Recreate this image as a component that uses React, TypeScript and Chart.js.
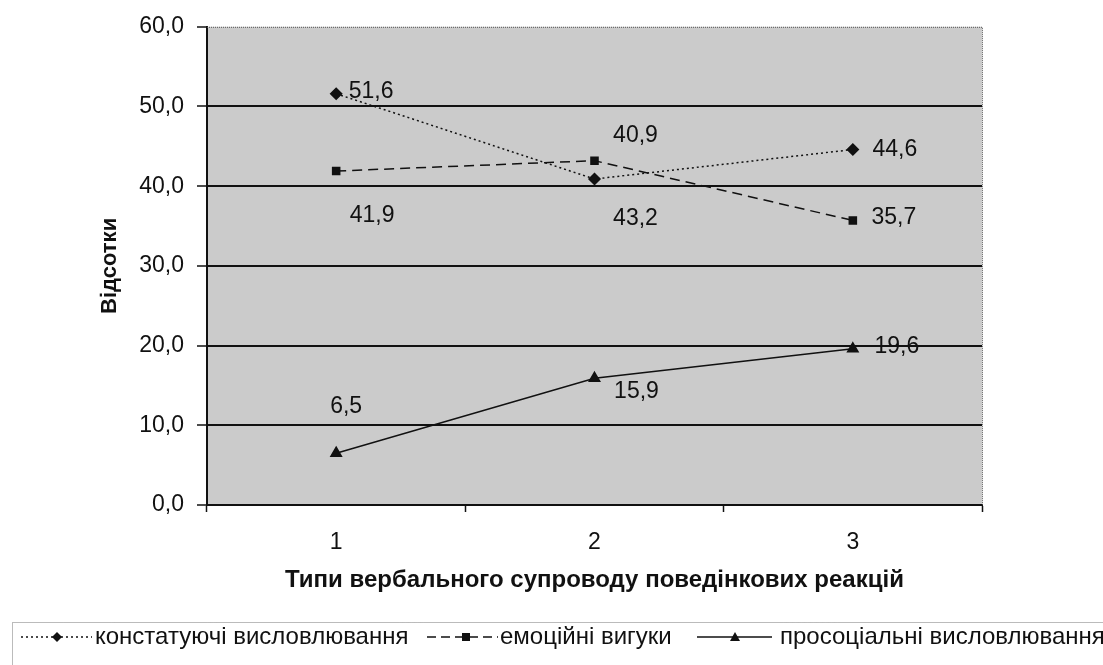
import React, { useEffect, useRef } from "react";
import { Chart, registerables } from "chart.js";

Chart.register(...registerables);

const categories = ["1", "2", "3"];
const seriesNames = [
  "констатуючі висловлювання",
  "емоційні вигуки",
  "просоціальні висловлювання",
];
const constatValues = [51.6, 40.9, 44.6];
const emotionValues = [41.9, 43.2, 35.7];
const prosocialValues = [6.5, 15.9, 19.6];
const xTitle = "Типи вербального супроводу поведінкових реакцій";
const yTitle = "Відсотки";
const yMin = 0;
const yMax = 60;
const yStep = 10;

// label offsets (pixels) relative to each point: [dx, dy]
const labelOffsets = [
  [[35, -2], [41, -43], [42, 0]],
  [[36, 45], [41, 58], [41, -3]],
  [[10, -47], [42, 13], [44, -2]],
];

const FONT = "'Liberation Sans', Arial, sans-serif";
const fmt = (v: number) => v.toFixed(1).replace(".", ",");

const bgPlugin = {
  id: "bgPlugin",
  beforeDraw(chart: any) {
    const { ctx, chartArea: a } = chart;
    ctx.save();
    ctx.fillStyle = "#cbcbcb";
    ctx.fillRect(a.left, a.top, a.right - a.left, a.bottom - a.top);
    ctx.restore();
  },
  beforeDatasetsDraw(chart: any) {
    const { ctx, chartArea: a } = chart;
    ctx.save();
    ctx.strokeStyle = "#555";
    ctx.lineWidth = 1;
    ctx.setLineDash([1, 1]);
    ctx.beginPath();
    ctx.moveTo(a.left, a.top + 0.5);
    ctx.lineTo(a.right + 0.5, a.top + 0.5);
    ctx.lineTo(a.right + 0.5, a.bottom);
    ctx.stroke();
    ctx.restore();
  },
};

const labelPlugin = {
  id: "labelPlugin",
  afterDatasetsDraw(chart: any) {
    const { ctx } = chart;
    ctx.save();
    ctx.font = `23px ${FONT}`;
    ctx.fillStyle = "#111";
    ctx.textAlign = "center";
    ctx.textBaseline = "middle";
    chart.data.datasets.forEach((ds: any, di: number) => {
      const meta = chart.getDatasetMeta(di);
      meta.data.forEach((pt: any, i: number) => {
        const [dx, dy] = labelOffsets[di][i];
        ctx.fillText(fmt(ds.data[i]), pt.x + dx, pt.y + dy);
      });
    });
    ctx.restore();
  },
};

const legendPlugin = {
  id: "legendPlugin",
  afterDraw(chart: any) {
    const { ctx } = chart;
    ctx.save();
    ctx.strokeStyle = "#777";
    ctx.lineWidth = 1;
    ctx.setLineDash([1, 1]);
    ctx.strokeRect(12.5, 622.5, 1200, 100);
    ctx.setLineDash([]);
    const y = 637;
    ctx.font = `24px ${FONT}`;
    ctx.textBaseline = "middle";
    ctx.textAlign = "left";
    ctx.fillStyle = "#111";
    const items = [
      { dash: [2, 3], style: "rectRot", lineStart: 21, lineLen: 71, marker: 57, text: 95 },
      { dash: [9, 5], style: "rect", lineStart: 427, lineLen: 71, marker: 466, text: 500 },
      { dash: [], style: "triangle", lineStart: 697, lineLen: 75, marker: 735, text: 780 },
    ];
    items.forEach((it, i) => {
      ctx.strokeStyle = "#111";
      ctx.lineWidth = 1.5;
      ctx.setLineDash(it.dash);
      ctx.beginPath();
      ctx.moveTo(it.lineStart, y);
      ctx.lineTo(it.lineStart + it.lineLen, y);
      ctx.stroke();
      ctx.setLineDash([]);
      const mx = it.marker;
      ctx.fillStyle = "#111";
      if (it.style === "rectRot") {
        ctx.beginPath();
        ctx.moveTo(mx, y - 5);
        ctx.lineTo(mx + 5, y);
        ctx.lineTo(mx, y + 5);
        ctx.lineTo(mx - 5, y);
        ctx.closePath();
        ctx.fill();
      } else if (it.style === "rect") {
        ctx.fillRect(mx - 4, y - 4, 8, 8);
      } else {
        ctx.beginPath();
        ctx.moveTo(mx, y - 5);
        ctx.lineTo(mx + 5, y + 4);
        ctx.lineTo(mx - 5, y + 4);
        ctx.closePath();
        ctx.fill();
      }
      ctx.fillText(seriesNames[i], it.text, y);
    });
    ctx.restore();
  },
};

export default function App() {
  const ref = useRef<HTMLCanvasElement | null>(null);
  useEffect(() => {
    document.body.style.margin = "0";
    const canvas = ref.current;
    if (!canvas) return;
    const common = {
      borderColor: "#111",
      backgroundColor: "#111",
      pointBackgroundColor: "#111",
      pointBorderColor: "#111",
      borderWidth: 1.5,
      fill: false,
      tension: 0,
    };
    const chart = new Chart(canvas, {
      type: "line",
      data: {
        labels: categories,
        datasets: [
          { ...common, label: seriesNames[0], data: constatValues, borderDash: [2, 3], pointStyle: "rectRot", pointRadius: 5.5 },
          { ...common, label: seriesNames[1], data: emotionValues, borderDash: [10, 6], pointStyle: "rect", pointRadius: 5 },
          { ...common, label: seriesNames[2], data: prosocialValues, pointStyle: "triangle", pointRadius: 6 },
        ],
      },
      options: {
        animation: false,
        responsive: false,
        layout: { padding: { left: 97, top: 25, right: 121, bottom: 70 } },
        plugins: { legend: { display: false }, tooltip: { enabled: false } },
        scales: {
          x: {
            offset: true,
            border: { display: true, color: "#111", width: 2 },
            grid: { drawOnChartArea: false, drawTicks: true, tickLength: 7, tickColor: "#111", tickWidth: 1.5, offset: true },
            ticks: { color: "#111", font: { family: FONT, size: 23 }, padding: 17 },
            title: { display: true, text: xTitle, color: "#111", font: { family: FONT, size: 24, weight: "bold" }, padding: { top: 4, bottom: 0 } },
            afterFit(scale: any) { scale.height = 90; },
          },
          y: {
            min: yMin,
            max: yMax,
            border: { display: true, color: "#111", width: 2 },
            grid: {
              color: "#111",
              lineWidth: (c: any) => (c.tick && (c.tick.value === yMin || c.tick.value === yMax) ? 0 : 2),
              drawTicks: true,
              tickLength: 10,
              tickColor: "#111",
              tickWidth: 1.5,
            },
            ticks: { stepSize: yStep, color: "#111", font: { family: FONT, size: 23 }, padding: 13, callback: (v: any) => fmt(Number(v)) },
            title: { display: true, text: yTitle, color: "#111", font: { family: FONT, size: 22, weight: "bold" }, padding: { top: 0, bottom: 0 } },
            afterFit(scale: any) { scale.width = 110; },
          },
        },
      },
      plugins: [bgPlugin, labelPlugin, legendPlugin],
    });
    return () => chart.destroy();
  }, []);
  return (
    <div style={{ width: 1103, height: 665, background: "#fff" }}>
      <canvas ref={ref} width={1103} height={665} style={{ display: "block" }} />
    </div>
  );
}
